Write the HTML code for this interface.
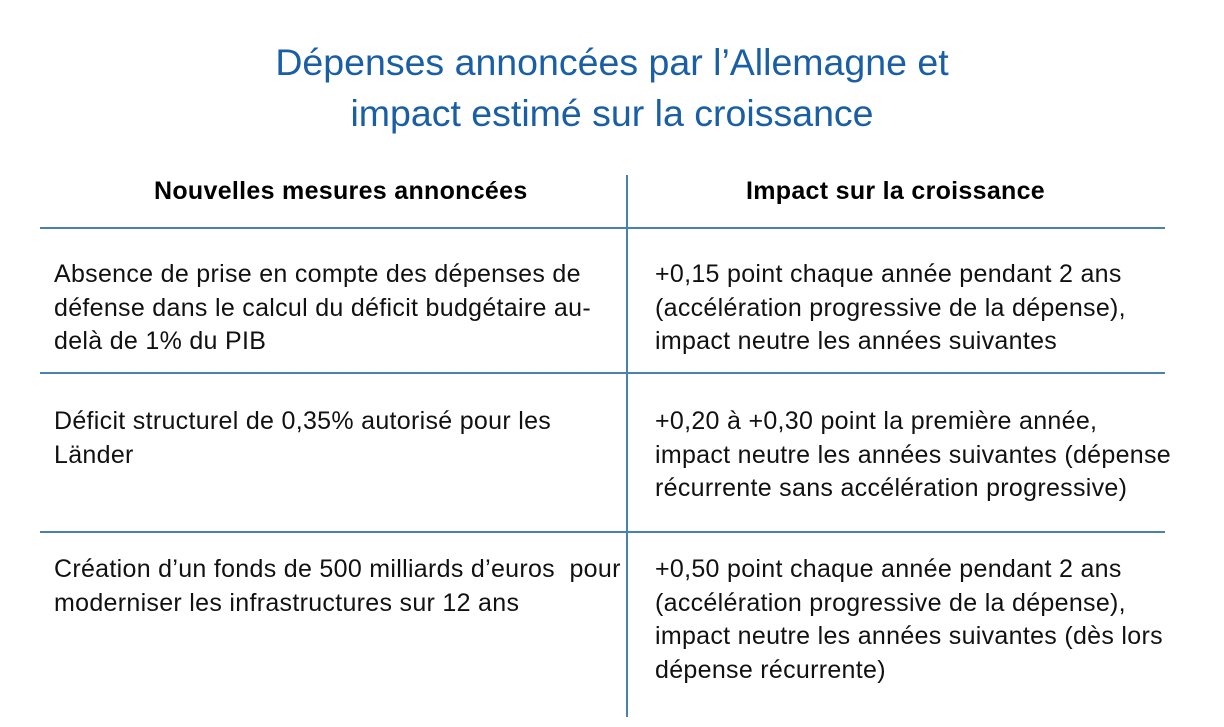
<!DOCTYPE html>
<html><head><meta charset="utf-8"><style>
body{margin:0;width:1224px;height:727px;background:#fff;position:relative;overflow:hidden;font-family:"Liberation Sans",sans-serif}
.t{position:absolute;white-space:nowrap}
.title{left:0;width:1224px;text-align:center;color:#1a5ea5;font-size:37.5px}
.h{font-weight:bold;font-size:25px;letter-spacing:0.3px;color:#000}
.b{font-size:25px;letter-spacing:0.3px;color:#111;line-height:33.5px}
.line{position:absolute;background:#4a82ae}
</style></head><body>
<div class="t title" style="top:41px">Dépenses annoncées par l’Allemagne et</div>
<div class="t title" style="top:92px">impact estimé sur la croissance</div>
<div class="t h" style="left:154px;top:177px">Nouvelles mesures annoncées</div>
<div class="t h" style="left:746px;top:177px">Impact sur la croissance</div>
<div class="line" style="left:626px;top:175px;width:2px;height:542px"></div>
<div class="line" style="left:40px;top:227px;width:1125px;height:2px"></div>
<div class="line" style="left:40px;top:372px;width:1125px;height:2px"></div>
<div class="line" style="left:40px;top:531px;width:1125px;height:2px"></div>
<div class="t b" style="left:54px;top:258px">Absence de prise en compte des dépenses de<br>défense dans le calcul du déficit budgétaire au-<br>delà de 1% du PIB</div>
<div class="t b" style="left:655px;top:258px">+0,15 point chaque année pendant 2 ans<br>(accélération progressive de la dépense),<br>impact neutre les années suivantes</div>
<div class="t b" style="left:54px;top:405px">Déficit structurel de 0,35% autorisé pour les<br>Länder</div>
<div class="t b" style="left:655px;top:405px">+0,20 à +0,30 point la première année,<br>impact neutre les années suivantes (dépense<br>récurrente sans accélération progressive)</div>
<div class="t b" style="left:54px;top:553px">Création d’un fonds de 500 milliards d’euros &nbsp;pour<br>moderniser les infrastructures sur 12 ans</div>
<div class="t b" style="left:655px;top:553px">+0,50 point chaque année pendant 2 ans<br>(accélération progressive de la dépense),<br>impact neutre les années suivantes (dès lors<br>dépense récurrente)</div>
</body></html>
